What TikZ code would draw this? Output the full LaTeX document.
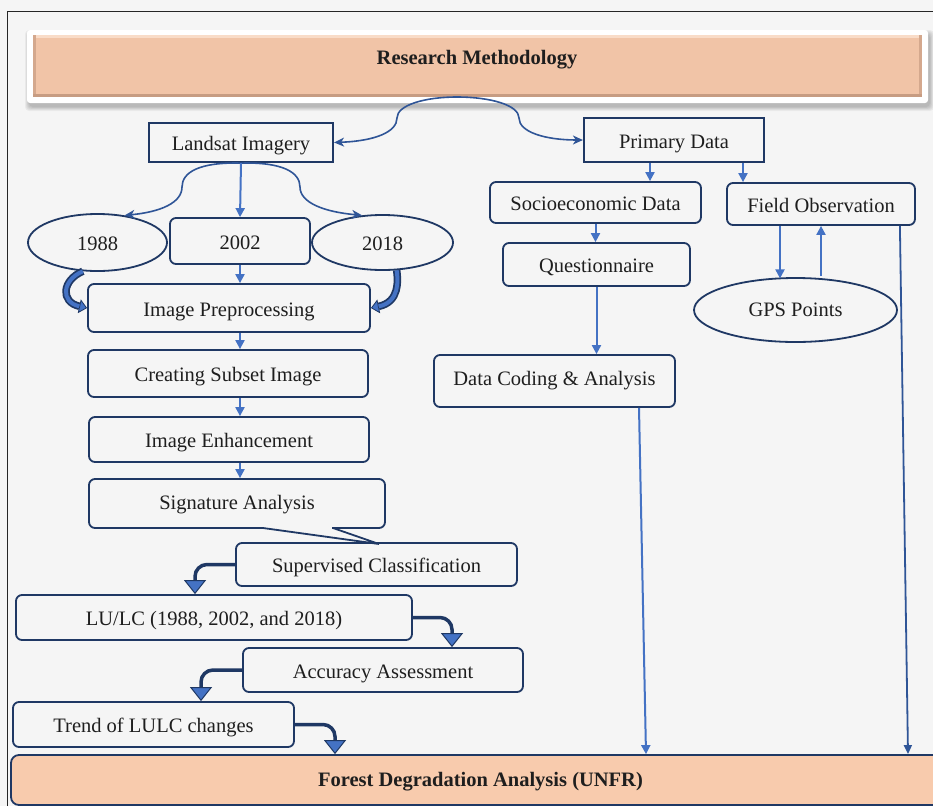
\documentclass[tikz,border=0pt]{standalone}
\usepackage{fontspec}
\setmainfont{Liberation Serif}
\usetikzlibrary{arrows.meta,shapes.geometric,calc}
\definecolor{bg}{HTML}{F5F5F5}
\definecolor{navy}{HTML}{1F3864}
\definecolor{blueA}{HTML}{4472C4}
\definecolor{blueB}{HTML}{2F5597}
\definecolor{peach}{HTML}{F1C4A7}
\definecolor{peachL}{HTML}{F9DCC8}
\definecolor{peachD}{HTML}{C79C82}
\definecolor{peachF}{HTML}{F8CBAD}
\definecolor{txt}{HTML}{1E1E1E}
\newcommand\myfs{\fontsize{20.5}{24}\selectfont}
\begin{document}
\begin{tikzpicture}[x=1pt,y=-1pt,
  box/.style={draw=navy, line width=1.8pt, inner sep=0pt, font=\myfs, text=txt, align=center, text height=18.5pt, text depth=2pt},
  sbox/.style={box, line width=2.2pt},
  rbox/.style={box, rounded corners=6pt},
  ell/.style={box, ellipse},
  arr/.style={draw=blueA, line width=2pt, -{Triangle[length=9pt,width=9pt]}},
  arrB/.style={draw=blueB, line width=1.8pt, -{Triangle[length=9pt,width=8pt]}},
  brace/.style={draw=blueB, line width=1.6pt, -{Stealth[length=10pt,width=9pt,inset=3pt]}},
  bent/.style={draw=navy, line width=3.5pt, rounded corners=12pt, -{Triangle[length=14pt,width=22pt,line width=1pt,fill=blueA]}},
  cres/.style={draw=navy, line width=7.5pt, -{Triangle[length=8pt,width=14pt,line width=0.8pt,fill=blueA]}},
  cresin/.style={draw=blueA, line width=4pt, shorten >=8pt}
]
\useasboundingbox (0,0) rectangle (933,806);
\fill[bg] (0,0) rectangle (933,806);
% frame
\draw[black!85, line width=1pt] (7,806) -- (7,11) -- (940,11);

% banner
\foreach \i in {0,...,5}{\fill[black, opacity=0.045, rounded corners=4pt] ({27+2-\i*0.8},{30+4-\i*0.8}) rectangle ({928+2+\i*0.8},{103+4+\i*0.8});}
\fill[white, rounded corners=3pt] (27,30) rectangle (928,103);
\fill[peach] (33,35) rectangle (922,97);
\fill[peachL] (33,35) rectangle (922,38);
\fill[peachD!70!peach] (33,35) rectangle (36,97);
\fill[peachD!70!peach] (919,35) rectangle (922,97);
\fill[peachD] (33,94) rectangle (922,97);
\node[font=\myfs\bfseries, text=txt, anchor=base] (title) at (477,64) {Research Methodology};
\coordinate (peak) at (457,97);

% left column
\node[sbox, minimum width=184pt, minimum height=39pt] (land) at (241,142.5) {Landsat Imagery};
\node[ell, minimum width=139pt, minimum height=57pt] (e88) at (97.5,242.5) {1988};
\node[rbox, minimum width=140pt, minimum height=46pt] (b02) at (240,241) {2002};
\node[ell, minimum width=141pt, minimum height=55pt] (e18) at (382.5,242.5) {2018};
\node[rbox, minimum width=282pt, minimum height=48pt] (pre) at (229,308) {Image Preprocessing};
\node[rbox, minimum width=280pt, minimum height=47pt] (sub) at (228,373.5) {Creating Subset Image};
\node[rbox, minimum width=280pt, minimum height=45pt] (enh) at (229,439.5) {Image Enhancement};
\node[rbox, minimum width=296pt, minimum height=49pt, text height=16pt, text depth=4pt] (sig) at (237,503.5) {Signature Analysis};
\fill[bg] (264,524) rectangle (332,532);
\draw[navy, line width=1.8pt, line cap=round] (263,528) -- (379,544) -- (333,528);
\node[rbox, minimum width=281pt, minimum height=43pt] (sup) at (376.5,564.5) {Supervised Classification};
\node[rbox, minimum width=396pt, minimum height=45pt] (lu) at (214,617.5) {LU/LC (1988, 2002, and 2018)};
\node[rbox, minimum width=280pt, minimum height=44pt] (acc) at (383,670) {Accuracy Assessment};
\node[rbox, minimum width=281pt, minimum height=45pt] (trend) at (153.5,724.5) {Trend of LULC changes};
\node[box, rounded corners=8pt, fill=peachF, minimum width=939pt, minimum height=50pt, font=\myfs\bfseries, text height=16pt, text depth=4pt] (forest) at (480.5,780) {Forest Degradation Analysis (UNFR)};

% right column
\node[sbox, minimum width=180pt, minimum height=44pt] (prim) at (674,140) {Primary Data};
\node[rbox, minimum width=211pt, minimum height=41pt] (socio) at (595.5,202.5) {Socioeconomic Data};
\node[rbox, minimum width=188pt, minimum height=42pt] (field) at (821,204) {Field Observation};
\node[rbox, minimum width=187pt, minimum height=43pt] (quest) at (596.5,264.5) {Questionnaire};
\node[rbox, minimum width=241pt, minimum height=52pt, text height=14.5pt, text depth=5pt] (dca) at (554.5,381) {Data Coding \& Analysis};
\node[ell, minimum width=203pt, minimum height=64pt, text height=16pt, text depth=4pt] (gps) at (795.5,310) {GPS Points};

% braces
\draw[brace] (peak) .. controls (425,97) and (397,105) .. (397,118) .. controls (397,132) and (375,141) .. (land.east);
\draw[brace] (peak) .. controls (490,97) and (519,105) .. (519,118) .. controls (519,132) and (545,140) .. (prim.west);
\draw[brace] (land.south) .. controls (200,162) and (182,172) .. (182,187) .. controls (182,203) and (160,212) .. (e88.45);
\draw[brace] (land.south) .. controls (282,162) and (300,172) .. (300,187) .. controls (300,203) and (325,212) .. (e18.127);
\draw[arr] (land.south) -- (b02.north);

% left thin arrows
\draw[arr] (b02.south) -- (b02.south |- pre.north);
\draw[arr] (pre.south -| b02.south) -- (sub.north -| b02.south);
\draw[arr] (sub.south -| b02.south) -- (enh.north -| b02.south);
\draw[arr] (enh.south -| b02.south) -- (sig.north -| b02.south);

% crescent arrows
\draw[cres] (e88.243) .. controls (62,280) and (60,302) .. (pre.west);
\draw[cresin] (e88.243) .. controls (62,280) and (60,302) .. (pre.west);
\draw[cres] (e18.-63) .. controls (398,280) and (400,302) .. (pre.east);
\draw[cresin] (e18.-63) .. controls (398,280) and (400,302) .. (pre.east);

% bent block arrows
\draw[bent] (sup.west) -| ([xshift=-19pt]lu.north);
\draw[bent] (lu.east) -| ([xshift=69pt]acc.north);
\draw[bent] (acc.west) -| ([xshift=47.5pt]trend.north);
\draw[bent] (trend.east) -| ([xshift=-145.5pt]forest.north);

% right arrows
\draw[arr] ([xshift=-24pt]prim.south) -- ([xshift=-24pt]prim.south |- socio.north);
\draw[arr] ([xshift=69pt]prim.south) -- ([xshift=69pt]prim.south |- field.north);
\draw[arr] (socio.south) -- (socio.south |- quest.north);
\draw[arr] (quest.south) -- (quest.south |- dca.north);
\draw[arr] ([xshift=-41pt]field.south) -- ([xshift=-41pt,yshift=-52.5pt]field.south);
\draw[arr] ([xshift=25.5pt,yshift=1pt]gps.north) -- ([xshift=25.5pt]gps.north |- field.south);
\draw[arr] ([xshift=84.5pt]dca.south) -- ([xshift=165.5pt]forest.north);
\draw[arrB] ([xshift=-16pt]field.south east) -- ([xshift=427.5pt]forest.north);
\end{tikzpicture}
\end{document}
